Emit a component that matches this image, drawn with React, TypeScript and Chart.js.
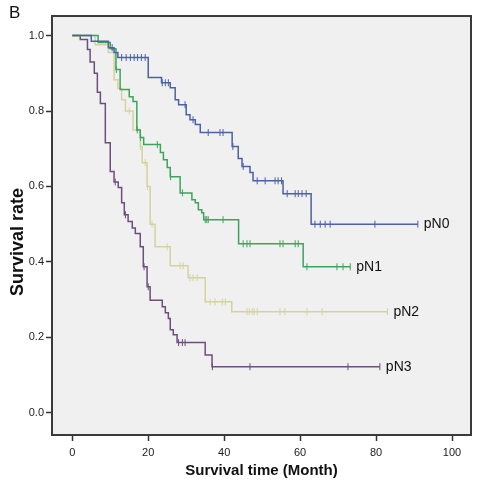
import React, { useEffect, useRef } from "react";
import { Chart, registerables } from "chart.js";

Chart.register(...registerables);

// ---- Data (months, survival rate) ----
const xTickValues = [0, 20, 40, 60, 80, 100];
const yTickValues = [0, 0.2, 0.4, 0.6, 0.8, 1.0];
const groupNames = ["pN0", "pN1", "pN2", "pN3"];

const pN0Times = [0, 5, 9.5, 11, 12, 20, 23.5, 25.8, 27.1, 28, 30, 31, 32.4, 33.7, 42.1, 43.7, 44.7, 46.8, 47.6, 55.5, 62.9, 91];
const pN0Surv = [1, 0.985, 0.968, 0.955, 0.942, 0.889, 0.875, 0.862, 0.83, 0.817, 0.79, 0.777, 0.764, 0.743, 0.706, 0.674, 0.653, 0.637, 0.615, 0.581, 0.5, 0.5];
const pN0Censored = [10.5, 13, 14.2, 15.3, 16.3, 17.2, 18.2, 19.2, 23.7, 24.5, 25.3, 29.7, 31.8, 35.8, 38.9, 39.7, 42.3, 45, 48.7, 50.8, 53.4, 54.2, 55.1, 56.6, 58.7, 59.5, 60.5, 61.6, 63.9, 65.3, 66.6, 67.9, 79.7, 91];

const pN1Times = [0, 6.8, 10, 11.5, 12.6, 15, 16, 17, 17.9, 18.8, 23.2, 24, 25, 25.8, 28.4, 31.5, 32.4, 33.2, 34.1, 34.6, 43.8, 60.8, 73.2];
const pN1Surv = [1, 0.982, 0.965, 0.91, 0.857, 0.838, 0.825, 0.75, 0.73, 0.711, 0.69, 0.671, 0.65, 0.626, 0.583, 0.565, 0.557, 0.538, 0.53, 0.512, 0.448, 0.387, 0.387];
const pN1Censored = [11.6, 17.1, 18, 22.4, 25.9, 29, 35, 35.4, 35.8, 39.7, 45, 46, 46.8, 54.7, 55.5, 58.7, 59.5, 61.8, 69.7, 71.3, 73.2];

const pN2Times = [0, 6, 9.5, 11, 12, 13, 14, 16, 17.9, 18.4, 19.7, 20.5, 21.8, 25.8, 30.5, 35, 42, 83];
const pN2Surv = [1, 0.976, 0.955, 0.883, 0.86, 0.83, 0.8, 0.75, 0.706, 0.663, 0.6, 0.5, 0.44, 0.39, 0.358, 0.294, 0.268, 0.268];
const pN2Censored = [15, 18, 19.2, 19.8, 21, 25, 28.4, 29.2, 31, 31.8, 32.9, 36.3, 37.6, 39.5, 40.3, 46, 46.6, 47.4, 47.9, 48.7, 54.7, 56, 61.8, 65.8, 83];

const pN3Times = [0, 2.1, 4, 4.7, 5.8, 6.6, 7.4, 8.7, 10, 11, 12.1, 13, 13.7, 14.7, 15.8, 16.6, 17.9, 18.7, 19.7, 20.5, 23.7, 24.5, 25.3, 25.8, 26.6, 27.6, 35, 36.8, 81];
const pN3Surv = [1, 0.99, 0.963, 0.93, 0.9, 0.85, 0.82, 0.716, 0.64, 0.612, 0.597, 0.557, 0.525, 0.507, 0.49, 0.475, 0.44, 0.387, 0.334, 0.298, 0.281, 0.265, 0.25, 0.22, 0.207, 0.186, 0.153, 0.122, 0.122];
const pN3Censored = [11.3, 14, 18.9, 20, 28, 29, 29.7, 36.9, 46.8, 72.6, 81];

const groupTimes = [pN0Times, pN1Times, pN2Times, pN3Times];
const groupSurv = [pN0Surv, pN1Surv, pN2Surv, pN3Surv];
const groupCensored = [pN0Censored, pN1Censored, pN2Censored, pN3Censored];
const groupColors = ["#4b61a9", "#3ea35c", "#d3d39e", "#6d4e7f"];

const FONT = "'Liberation Sans', Arial, Helvetica, sans-serif";

function survivalAt(times: number[], surv: number[], t: number): number {
  let s = surv[0];
  for (let i = 0; i < times.length; i++) {
    if (times[i] <= t) s = surv[i];
  }
  return s;
}

export default function App() {
  const canvasRef = useRef<HTMLCanvasElement | null>(null);

  useEffect(() => {
    document.body.style.margin = "0";
    const canvas = canvasRef.current;
    if (!canvas) return;

    const datasets: any[] = [];
    groupNames.forEach((name, g) => {
      datasets.push({
        label: name,
        data: groupTimes[g].map((t, i) => ({ x: t, y: groupSurv[g][i] })),
        showLine: true,
        stepped: true,
        borderColor: groupColors[g],
        borderWidth: 1.5,
        pointRadius: 0,
        fill: false,
      });
      datasets.push({
        label: name + " censored",
        data: groupCensored[g].map((t) => ({ x: t, y: survivalAt(groupTimes[g], groupSurv[g], t) })),
        showLine: false,
        pointStyle: "line",
        rotation: 90,
        pointRadius: 3.5,
        pointBorderWidth: 1,
        borderColor: groupColors[g],
        backgroundColor: groupColors[g],
        pointHoverRadius: 3.5,
      });
    });

    const decor = {
      id: "decor",
      beforeDraw(chart: any) {
        const { ctx, chartArea } = chart;
        ctx.save();
        ctx.fillStyle = "#ffffff";
        ctx.fillRect(0, 0, chart.width, chart.height);
        ctx.fillStyle = "#f0f0f0";
        ctx.fillRect(chartArea.left, chartArea.top, chartArea.right - chartArea.left, chartArea.bottom - chartArea.top);
        ctx.restore();
      },
      afterDraw(chart: any) {
        const { ctx, chartArea } = chart;
        const xs = chart.scales.x;
        const ys = chart.scales.y;
        ctx.save();
        // plot frame
        ctx.strokeStyle = "#3a3a3a";
        ctx.lineWidth = 2;
        ctx.strokeRect(chartArea.left, chartArea.top, chartArea.right - chartArea.left, chartArea.bottom - chartArea.top);
        // curve end labels
        ctx.fillStyle = "#111111";
        ctx.font = `14px ${FONT}`;
        ctx.textAlign = "left";
        ctx.textBaseline = "middle";
        groupNames.forEach((name, g) => {
          const t = groupTimes[g];
          const s = groupSurv[g];
          const px = xs.getPixelForValue(t[t.length - 1]);
          const py = ys.getPixelForValue(s[s.length - 1]);
          ctx.fillText(name, px + 6, py);
        });
        // y title
        ctx.save();
        ctx.translate(18, 242);
        ctx.rotate(-Math.PI / 2);
        ctx.font = `bold 18px ${FONT}`;
        ctx.textAlign = "center";
        ctx.textBaseline = "middle";
        ctx.fillStyle = "#111111";
        ctx.fillText("Survival rate", 0, 0);
        ctx.restore();
        // panel letter
        ctx.font = `17px ${FONT}`;
        ctx.textAlign = "left";
        ctx.textBaseline = "top";
        ctx.fillStyle = "#111111";
        ctx.fillText("B", 9, 5);
        ctx.restore();
      },
    };

    const chart = new Chart(canvas, {
      type: "scatter",
      data: { datasets },
      options: {
        animation: false,
        responsive: false,
        devicePixelRatio: 1,
        layout: { padding: { top: 16, right: 18, left: 0, bottom: 0 } },
        plugins: {
          legend: { display: false },
          tooltip: { enabled: false },
        },
        scales: {
          x: {
            type: "linear",
            min: -5.34,
            max: 105,
            afterBuildTicks: (s: any) => {
              s.ticks = xTickValues.map((v) => ({ value: v }));
            },
            afterFit: (s: any) => {
              s.height = 49;
            },
            ticks: {
              font: { family: FONT, size: 11 },
              color: "#222222",
              padding: 5,
              maxRotation: 0,
              autoSkip: false,
              callback: (v: any) => String(v),
            },
            grid: {
              display: true,
              drawOnChartArea: false,
              drawTicks: true,
              tickLength: 6,
              tickColor: "#333333",
              tickWidth: 1.5,
            },
            border: { display: false },
            title: {
              display: true,
              text: "Survival time (Month)",
              font: { family: FONT, size: 15, weight: "bold" },
              color: "#111111",
              padding: { top: 0, bottom: 4 },
            },
          },
          y: {
            type: "linear",
            min: -0.059,
            max: 1.052,
            afterBuildTicks: (s: any) => {
              s.ticks = yTickValues.map((v) => ({ value: v }));
            },
            afterFit: (s: any) => {
              s.width = 52;
            },
            ticks: {
              font: { family: FONT, size: 11 },
              color: "#222222",
              padding: 2,
              autoSkip: false,
              callback: (v: any) => Number(v).toFixed(1),
            },
            grid: {
              display: true,
              drawOnChartArea: false,
              drawTicks: true,
              tickLength: 6,
              tickColor: "#333333",
              tickWidth: 1.5,
            },
            border: { display: false },
            title: { display: false },
          },
        },
      },
      plugins: [decor],
    } as any);

    return () => {
      chart.destroy();
    };
  }, []);

  return (
    <div style={{ width: 489, height: 484, position: "relative" }}>
      <canvas ref={canvasRef} width={489} height={484} style={{ display: "block", width: 489, height: 484 }} />
    </div>
  );
}
